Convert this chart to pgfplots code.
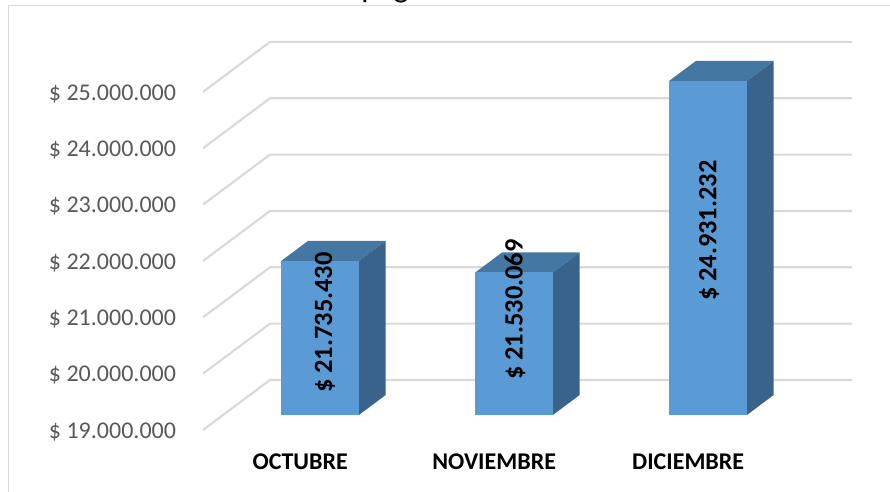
\documentclass[border=0pt]{standalone}
\usepackage{pgfplots}
\pgfplotsset{compat=1.18}
\usepackage{fontspec}
\setmainfont{Carlito}
\definecolor{front}{HTML}{5B9BD5}
\definecolor{topf}{HTML}{4577A3}
\definecolor{sidef}{HTML}{39638A}
\definecolor{gridc}{HTML}{D9D9D9}
\definecolor{tickc}{HTML}{595959}
\definecolor{framec}{HTML}{D9D9D9}
\begin{document}
\begin{tikzpicture}
\begin{axis}[
  x={(145.5pt,0pt)}, y={(50.25pt,37.5pt)}, z={(0pt,42.26pt)},
  xmin=-0.5, xmax=2.5, ymin=0, ymax=1, zmin=19, zmax=25,
  axis lines=left,
  axis line style={draw=none},
  tick style={draw=none},
  clip=false,
  xtick={0,1,2},
  xticklabels={OCTUBRE,NOVIEMBRE,DICIEMBRE},
  ytick=\empty,
  ztick={19,20,21,22,23,24,25},
  zticklabels={\$ 19.000.000,\$ 20.000.000,\$ 21.000.000,\$ 22.000.000,\$ 23.000.000,\$ 24.000.000,\$ 25.000.000},
  x tick label style={font=\fontsize{18}{20}\selectfont\bfseries, text=black, yshift=-13pt, xshift=6.6pt},
  z tick label style={font=\fontsize{18}{20}\selectfont, text=tickc, anchor=east, xshift=-15pt},
]
% grid on the side and back walls
\pgfplotsinvokeforeach{19,20,21,22,23,24,25}{
  \addplot3[draw=gridc, line width=1.6pt, forget plot] coordinates {(-0.5,0,#1) (-0.5,1,#1) (2.5,1,#1)};
}
% October
\addplot3[fill=topf, draw=none, forget plot] coordinates {(-0.2,0.3,21.73543) (0.2,0.3,21.73543) (0.2,0.7,21.73543) (-0.2,0.7,21.73543)} -- cycle;
\addplot3[fill=sidef, draw=none, forget plot] coordinates {(0.2,0.3,19) (0.2,0.7,19) (0.2,0.7,21.73543) (0.2,0.3,21.73543)} -- cycle;
\addplot3[fill=front, draw=none, forget plot] coordinates {(-0.2,0.3,19) (0.2,0.3,19) (0.2,0.3,21.73543) (-0.2,0.3,21.73543)} -- cycle;
% November
\addplot3[fill=topf, draw=none, forget plot] coordinates {(0.8,0.3,21.530069) (1.2,0.3,21.530069) (1.2,0.7,21.530069) (0.8,0.7,21.530069)} -- cycle;
\addplot3[fill=sidef, draw=none, forget plot] coordinates {(1.2,0.3,19) (1.2,0.7,19) (1.2,0.7,21.530069) (1.2,0.3,21.530069)} -- cycle;
\addplot3[fill=front, draw=none, forget plot] coordinates {(0.8,0.3,19) (1.2,0.3,19) (1.2,0.3,21.530069) (0.8,0.3,21.530069)} -- cycle;
% December
\addplot3[fill=topf, draw=none, forget plot] coordinates {(1.8,0.3,24.931232) (2.2,0.3,24.931232) (2.2,0.7,24.931232) (1.8,0.7,24.931232)} -- cycle;
\addplot3[fill=sidef, draw=none, forget plot] coordinates {(2.2,0.3,19) (2.2,0.7,19) (2.2,0.7,24.931232) (2.2,0.3,24.931232)} -- cycle;
\addplot3[fill=front, draw=none, forget plot] coordinates {(1.8,0.3,19) (2.2,0.3,19) (2.2,0.3,24.931232) (1.8,0.3,24.931232)} -- cycle;
% data labels
\node[rotate=90, font=\fontsize{19.8}{22}\selectfont\bfseries, text=black] at (axis cs:0.025,0.3,20.64) {\$ 21.735.430};
\node[rotate=90, font=\fontsize{19.8}{22}\selectfont\bfseries, text=black] at (axis cs:1.005,0.3,20.87) {\$ 21.530.069};
\node[rotate=90, font=\fontsize{19.8}{22}\selectfont\bfseries, text=black] at (axis cs:2.005,0.3,22.27) {\$ 24.931.232};
\coordinate (o) at (axis cs:-0.5,0,19);
\end{axis}
\pgfresetboundingbox
\begin{scope}[shift={(o)},x=0.75pt,y=-0.75pt,shift={(-203,-430)}]
  \path[use as bounding box] (0,0) rectangle (890,492);
  \draw[framec, line width=1.1pt] (8.5,492) -- (8.5,5.5) -- (890,5.5);
  \begin{scope}
    \clip (300,0) rectangle (500,5);
    \node[font=\fontsize{24}{26}\selectfont, text=black, anchor=base] at (385,-2) {pag};
  \end{scope}
\end{scope}
\end{tikzpicture}
\end{document}
